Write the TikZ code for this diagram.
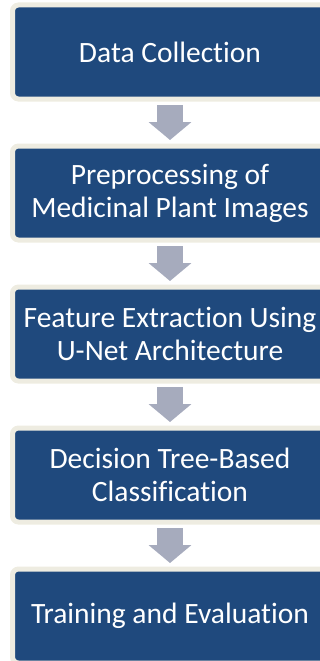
\documentclass[tikz,border=0pt]{standalone}
\usepackage{fontspec}
\setmainfont{Carlito}[Ligatures={NoCommon}]
\usetikzlibrary{positioning,arrows.meta}
\definecolor{stageblue}{HTML}{1F497D}
\definecolor{stagerim}{HTML}{EEECE1}
\definecolor{flowgray}{RGB}{166,171,189}

\begin{document}
\begin{tikzpicture}[x=1pt, y=1pt, node distance=47pt,
                    stage node/.style={rectangle, rounded corners=6pt, fill=stageblue, draw=stagerim,
                      line width=5pt, outer sep=0pt, minimum width=315pt, minimum height=94pt,
                      inner sep=2pt, align=center, text=white,
                      font=\fontsize{29.5}{33}\selectfont},
                    flow arrow/.style={draw=flowgray, line width=26pt,
                      -{Triangle[width=42pt, length=18pt]}, shorten <=6pt, shorten >=6pt}]
  \useasboundingbox (0,0) rectangle (320,-661);
  \clip (0,0) rectangle (320,-661);

  \node[stage node] (1) at (170,-52) {Data Collection};
  \node[stage node] (2) [below=of 1] {Preprocessing of\\Medicinal Plant Images};
  \node[stage node] (3) [below=of 2] {Feature Extraction Using\\U-Net Architecture};
  \node[stage node] (4) [below=of 3] {Decision Tree-Based\\Classification};
  \node[stage node] (5) [below=of 4] {Training and Evaluation};

  \path
    (1) edge[flow arrow] (2)
    (2) edge[flow arrow] (3)
    (3) edge[flow arrow] (4)
    (4) edge[flow arrow] (5);
\end{tikzpicture}
\end{document}
